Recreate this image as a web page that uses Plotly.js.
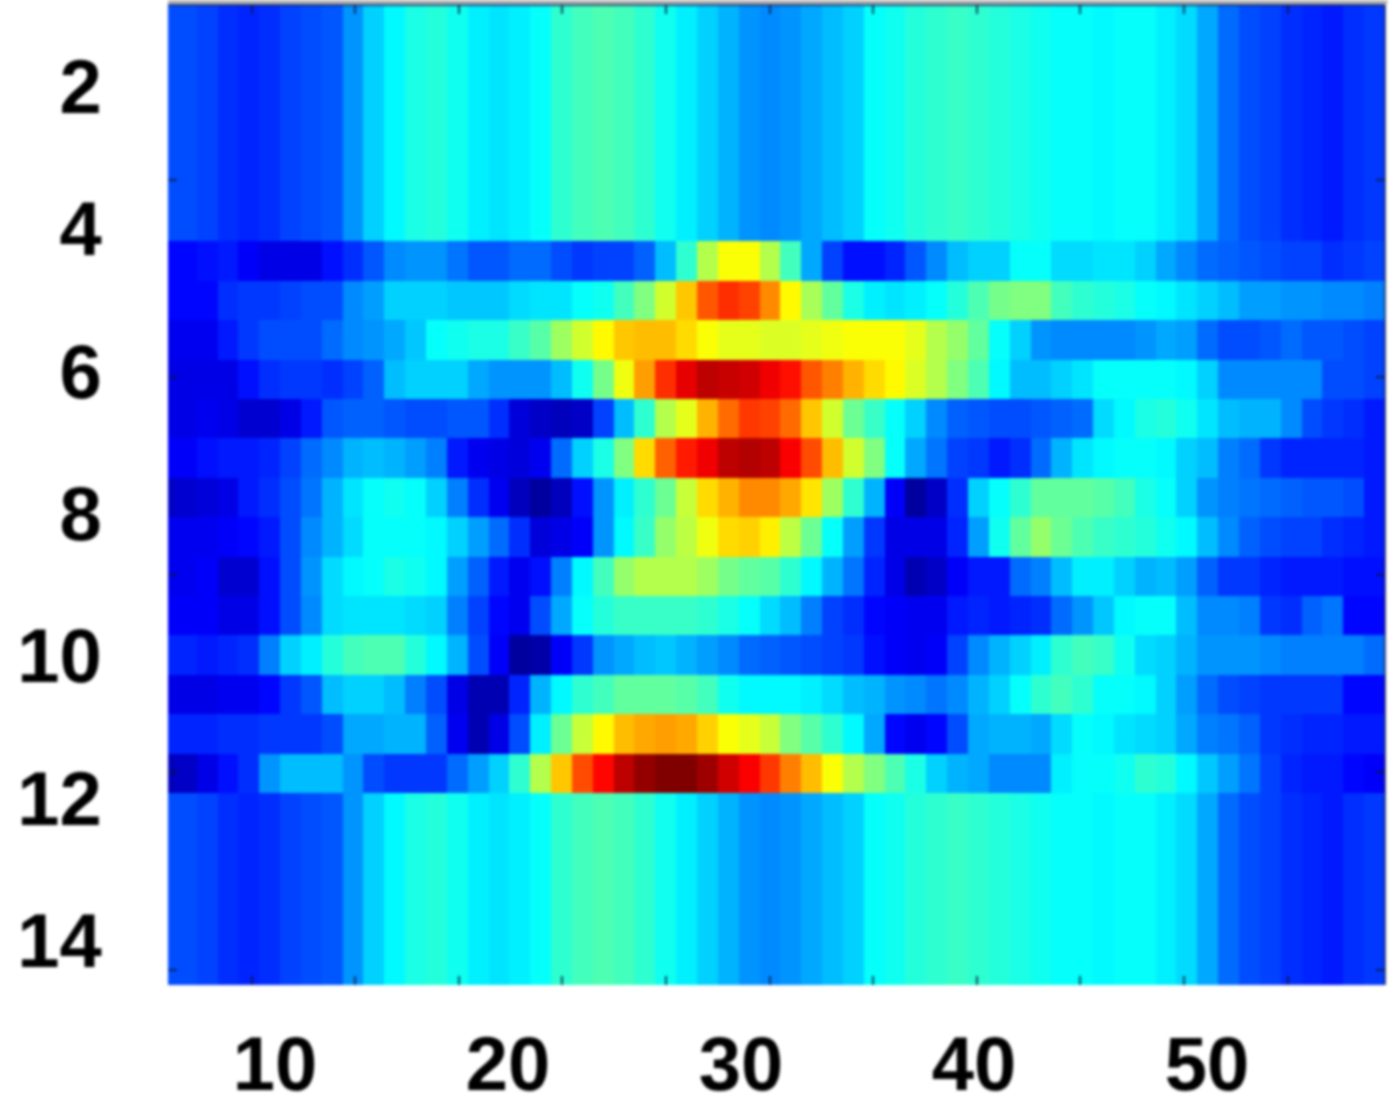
<!DOCTYPE html>
<html>
<head>
<meta charset="utf-8">
<script src="https://cdn.plot.ly/plotly-3.0.1.min.js"></script>
<style>
html,body{margin:0;padding:0;background:#fff;overflow:hidden}
#chart{width:1400px;height:1094px;filter:blur(1.6px)}
</style>
</head>
<body>
<div id="chart"></div>
<script>
const outerRow=[.2,.2,.19,.17,.16,.17,.19,.2,.21,.27,.33,.37,.4,.41,.39,.36,.35,.36,.38,.42,.44,.45,.44,.42,.39,.36,.33,.3,.27,.26,.27,.29,.31,.33,.38,.39,.41,.42,.43,.42,.41,.4,.39,.38,.38,.37,.38,.38,.36,.34,.29,.23,.2,.19,.17,.16,.15,.17,.18];
const row0=[.13,.13,.14,.15,.12,.1,.1,.1,.14,.17,.21,.26,.27,.27,.24,.21,.21,.23,.23,.2,.18,.19,.19,.22,.31,.42,.55,.62,.62,.55,.44,.29,.19,.14,.14,.16,.21,.26,.31,.33,.33,.38,.38,.34,.34,.35,.35,.33,.29,.26,.23,.22,.21,.2,.19,.19,.17,.18,.19];
const row1=[.13,.13,.13,.17,.18,.18,.19,.2,.2,.26,.28,.33,.33,.33,.32,.32,.32,.34,.35,.35,.38,.39,.44,.5,.58,.68,.79,.83,.81,.74,.63,.54,.47,.4,.36,.35,.36,.38,.41,.45,.49,.5,.5,.44,.42,.41,.4,.38,.37,.35,.33,.31,.28,.28,.27,.27,.26,.26,.25];
const row2=[.11,.11,.11,.15,.18,.2,.2,.2,.23,.26,.27,.29,.32,.38,.39,.4,.4,.43,.46,.53,.58,.63,.68,.69,.69,.66,.62,.6,.6,.59,.59,.6,.61,.62,.62,.62,.6,.55,.52,.47,.38,.33,.27,.26,.26,.26,.26,.27,.29,.28,.23,.2,.2,.21,.23,.21,.21,.2,.19];
const row3=[.1,.1,.1,.1,.14,.17,.18,.18,.17,.19,.22,.31,.33,.33,.33,.29,.27,.27,.27,.31,.39,.49,.61,.72,.83,.9,.94,.93,.92,.89,.86,.79,.75,.7,.66,.63,.59,.55,.5,.45,.37,.31,.31,.33,.35,.38,.38,.38,.38,.37,.33,.26,.26,.26,.26,.26,.2,.2,.19];
const row4=[.1,.1,.11,.1,.08,.08,.1,.15,.21,.22,.22,.21,.2,.2,.21,.21,.17,.09,.07,.06,.07,.19,.31,.42,.55,.6,.7,.77,.82,.81,.77,.68,.58,.48,.43,.38,.33,.26,.22,.21,.2,.2,.21,.22,.23,.34,.37,.4,.41,.39,.35,.31,.3,.3,.26,.2,.18,.17,.15];
const row5=[.12,.12,.14,.15,.15,.16,.19,.23,.26,.3,.31,.3,.28,.25,.15,.11,.1,.09,.11,.23,.33,.4,.5,.66,.78,.85,.89,.94,.95,.94,.88,.8,.69,.58,.5,.38,.29,.24,.19,.18,.15,.17,.23,.3,.35,.37,.38,.38,.37,.33,.31,.25,.23,.18,.16,.16,.16,.16,.15];
const row6=[.07,.08,.09,.1,.15,.17,.2,.24,.3,.35,.38,.39,.38,.33,.25,.17,.11,.06,.03,.06,.14,.27,.36,.42,.48,.57,.66,.7,.74,.74,.71,.65,.53,.42,.3,.12,.03,.07,.17,.33,.38,.42,.47,.47,.47,.46,.44,.4,.38,.33,.27,.25,.24,.23,.22,.21,.21,.2,.15];
const row7=[.11,.11,.11,.12,.13,.15,.2,.26,.3,.34,.38,.38,.38,.37,.33,.28,.23,.17,.09,.1,.12,.27,.37,.43,.52,.56,.61,.66,.67,.64,.56,.48,.38,.28,.18,.1,.1,.1,.16,.28,.39,.47,.52,.48,.45,.43,.42,.41,.39,.37,.31,.26,.22,.2,.19,.19,.17,.16,.15];
const row8=[.11,.11,.12,.08,.08,.14,.2,.27,.34,.37,.38,.4,.39,.37,.28,.22,.15,.11,.14,.25,.37,.44,.52,.55,.55,.55,.53,.49,.47,.46,.42,.37,.3,.24,.16,.1,.05,.07,.12,.15,.15,.23,.25,.31,.36,.36,.33,.3,.31,.28,.22,.18,.18,.16,.15,.15,.15,.14,.14];
const row9=[.12,.12,.12,.1,.1,.14,.2,.26,.34,.35,.35,.35,.34,.33,.25,.19,.13,.11,.2,.29,.38,.41,.43,.43,.43,.43,.42,.4,.38,.34,.31,.25,.19,.17,.13,.12,.11,.11,.15,.16,.15,.16,.17,.23,.27,.32,.37,.38,.38,.31,.26,.26,.25,.18,.17,.22,.24,.13,.13];
const row10=[.16,.16,.15,.16,.17,.25,.33,.36,.41,.44,.45,.45,.41,.37,.3,.2,.12,.03,.04,.12,.18,.27,.29,.31,.32,.3,.28,.26,.23,.22,.21,.2,.19,.18,.14,.12,.11,.12,.19,.26,.3,.33,.36,.42,.44,.43,.39,.34,.33,.3,.27,.27,.27,.26,.25,.25,.25,.25,.23];
const row11=[.1,.1,.1,.11,.11,.13,.18,.21,.31,.33,.33,.31,.25,.2,.1,.05,.05,.16,.3,.37,.42,.44,.47,.47,.47,.46,.44,.39,.37,.37,.37,.36,.34,.31,.3,.27,.26,.24,.26,.3,.33,.38,.42,.44,.42,.38,.38,.37,.33,.28,.23,.2,.19,.18,.18,.18,.18,.13,.13];
const row12=[.16,.16,.16,.17,.17,.18,.18,.18,.2,.29,.29,.3,.3,.22,.11,.05,.1,.2,.36,.48,.57,.63,.69,.71,.72,.71,.67,.62,.6,.57,.5,.46,.42,.37,.29,.13,.11,.13,.2,.29,.3,.3,.29,.34,.38,.37,.35,.34,.33,.29,.25,.24,.22,.18,.17,.16,.16,.15,.15];
const row13=[.06,.07,.1,.14,.17,.27,.31,.31,.31,.27,.2,.18,.18,.18,.23,.28,.33,.42,.55,.68,.8,.87,.94,.98,1,1,.97,.92,.88,.82,.75,.69,.62,.55,.5,.45,.4,.33,.3,.29,.26,.26,.26,.36,.38,.38,.39,.42,.41,.37,.32,.28,.24,.19,.16,.15,.15,.13,.12];

const xTickLabels=[10,20,30,40,50];
const yTickLabels=[2,4,6,8,10,12,14];
const xMarks=[5,10,15,20,25,30,35,40,45,50,55];
const yMarks=[5,10,15,20,25];

const jet=[[0,'#000080'],[.125,'#0000ff'],[.375,'#00ffff'],[.625,'#ffff00'],[.875,'#ff0000'],[1,'#800000']];
const z=[outerRow,outerRow,outerRow,outerRow,outerRow,outerRow,
  row0,row1,row2,row3,row4,row5,row6,row7,row8,row9,row10,row11,row12,row13,
  outerRow,outerRow,outerRow,outerRow,outerRow];

const labelFont={family:'"Liberation Sans", Arial, sans-serif',size:76,color:'#000',weight:700};
const markColor='rgba(8,24,60,0.8)';

Plotly.newPlot('chart',[
  {type:'heatmap',z:z,x0:5.296,dx:0.8948,y0:1.135,dy:0.5534,
   colorscale:jet,zmin:0,zmax:1,showscale:false,zsmooth:false,hoverinfo:'skip'},
  {type:'scatter',x:[],y:[],xaxis:'x2',yaxis:'y2',mode:'markers',showlegend:false,hoverinfo:'skip'}
],{
  width:1400,height:1094,autosize:false,
  margin:{l:168,r:15,t:5,b:109,pad:0},
  paper_bgcolor:'#fff',plot_bgcolor:'#fff',showlegend:false,
  xaxis:{range:[5.408,57.639],tickmode:'array',tickvals:xTickLabels,ticktext:xTickLabels.map(String),
    ticks:'outside',ticklen:13,tickcolor:'rgba(0,0,0,0)',tickfont:labelFont,showgrid:false,zeroline:false,showline:false},
  yaxis:{range:[14.628,0.858],tickmode:'array',tickvals:yTickLabels,ticktext:yTickLabels.map(String),
    ticks:'outside',ticklen:50,tickcolor:'rgba(0,0,0,0)',tickfont:labelFont,showgrid:false,zeroline:false,showline:false},
  xaxis2:{overlaying:'x',anchor:'y2',side:'top',range:[0.97,59.7],tickmode:'array',tickvals:xMarks,showticklabels:false,
    ticks:'inside',ticklen:9,tickwidth:2,tickcolor:markColor,mirror:'allticks',showline:false,showgrid:false,zeroline:false},
  yaxis2:{overlaying:'y',anchor:'x2',side:'right',range:[25.38,0.57],tickmode:'array',tickvals:yMarks,showticklabels:false,
    ticks:'inside',ticklen:9,tickwidth:2,tickcolor:markColor,mirror:'allticks',showline:false,showgrid:false,zeroline:false},
  shapes:[
    {type:'rect',xref:'paper',yref:'paper',x0:0,x1:1.002,y0:1.0005,y1:1.006,fillcolor:'#b4b4b4',line:{width:0}},
    {type:'line',xref:'paper',yref:'paper',x0:0,x1:1,y0:1,y1:1,line:{color:'rgba(8,24,80,0.7)',width:2}},
    {type:'line',xref:'paper',yref:'paper',x0:1,x1:1,y0:0,y1:1,line:{color:'rgba(8,24,80,0.7)',width:2}}
  ]
},{staticPlot:true,displayModeBar:false});
</script>
</body>
</html>
